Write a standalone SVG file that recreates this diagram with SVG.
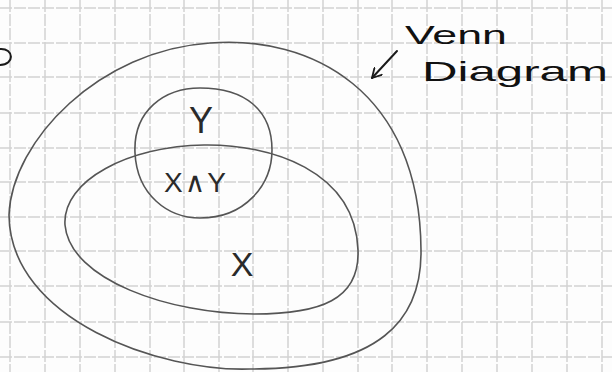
<svg xmlns="http://www.w3.org/2000/svg" width="612" height="372" viewBox="0 0 612 372">
<defs>
<style>
.grid line{stroke:#d2d2d2;stroke-width:1.5;stroke-dasharray:12 2}
.set{fill:none;stroke:#555;stroke-width:1.6;stroke-linecap:round;stroke-linejoin:round}
.ink{fill:none;stroke:#1a1a1a;stroke-width:2;stroke-linecap:round;stroke-linejoin:round}
.lbl{font-family:"Liberation Sans","DejaVu Sans",sans-serif;fill:#2a2a2a;text-anchor:middle}
.note{font-family:"Liberation Sans","DejaVu Sans",sans-serif;fill:#111}
</style>
<marker id="head" viewBox="0 0 12 12" refX="10" refY="6" markerWidth="12" markerHeight="12" markerUnits="userSpaceOnUse" orient="auto">
<path d="M1,1 L10,6 L1,11" fill="none" stroke="#1a1a1a" stroke-width="1.8" stroke-linecap="round" stroke-linejoin="round"/>
</marker>
</defs>
<rect width="612" height="372" fill="#fdfdfd"/>
<g class="grid">
<line x1="10" y1="0" x2="10" y2="372"/><line x1="45" y1="0" x2="45" y2="372"/><line x1="80" y1="0" x2="80" y2="372"/><line x1="115" y1="0" x2="115" y2="372"/><line x1="150" y1="0" x2="150" y2="372"/><line x1="184" y1="0" x2="184" y2="372"/><line x1="219" y1="0" x2="219" y2="372"/><line x1="253" y1="0" x2="253" y2="372"/><line x1="288" y1="0" x2="288" y2="372"/><line x1="323" y1="0" x2="323" y2="372"/><line x1="358" y1="0" x2="358" y2="372"/><line x1="392" y1="0" x2="392" y2="372"/><line x1="427" y1="0" x2="427" y2="372"/><line x1="462" y1="0" x2="462" y2="372"/><line x1="497" y1="0" x2="497" y2="372"/><line x1="532" y1="0" x2="532" y2="372"/><line x1="567" y1="0" x2="567" y2="372"/><line x1="602" y1="0" x2="602" y2="372"/>
<line x1="0" y1="8" x2="612" y2="8"/><line x1="0" y1="43" x2="612" y2="43"/><line x1="0" y1="77" x2="612" y2="77"/><line x1="0" y1="113" x2="612" y2="113"/><line x1="0" y1="148" x2="612" y2="148"/><line x1="0" y1="182" x2="612" y2="182"/><line x1="0" y1="217" x2="612" y2="217"/><line x1="0" y1="251" x2="612" y2="251"/><line x1="0" y1="286" x2="612" y2="286"/><line x1="0" y1="322" x2="612" y2="322"/><line x1="0" y1="357" x2="612" y2="357"/>
</g>
<path class="ink" d="M0,49 C14,48 15,65 0,65"/>
<g id="universe">
<path class="set" d="M9,215 C12,140 100,50 210,43 C310,35 420,90 421,250 C422,320 380,369 250,369 C160,372 10,320 9,215 Z"/>
</g>
<g id="setX">
<path class="set" d="M65,225 C62,180 130,146 204,145 C270,144 355,170 358,250 C360,300 320,314 254,314 C170,314 70,280 65,225 Z"/>
<text class="lbl" x="242" y="276" font-size="34">X</text>
</g>
<g id="setY">
<path class="set" d="M135,153 C133,110 165,88 200,88 C245,88 272,110 272,150 C272,185 245,218 200,218 C168,218 137,195 135,153 Z"/>
<text class="lbl" x="201" y="133" font-size="36">Y</text>
</g>
<g id="intersection">
<text class="lbl" x="196" y="192" font-size="28" letter-spacing="2">X∧Y</text>
</g>
<g id="note">
<text class="note" x="405" y="44" font-size="26" textLength="102" lengthAdjust="spacingAndGlyphs">Venn</text>
<text class="note" x="422" y="81" font-size="28" textLength="186" lengthAdjust="spacingAndGlyphs">Diagram</text>
</g>
<g id="connectors">
<path class="ink" d="M397,51 L372,78" marker-end="url(#head)"/>
</g>
</svg>
